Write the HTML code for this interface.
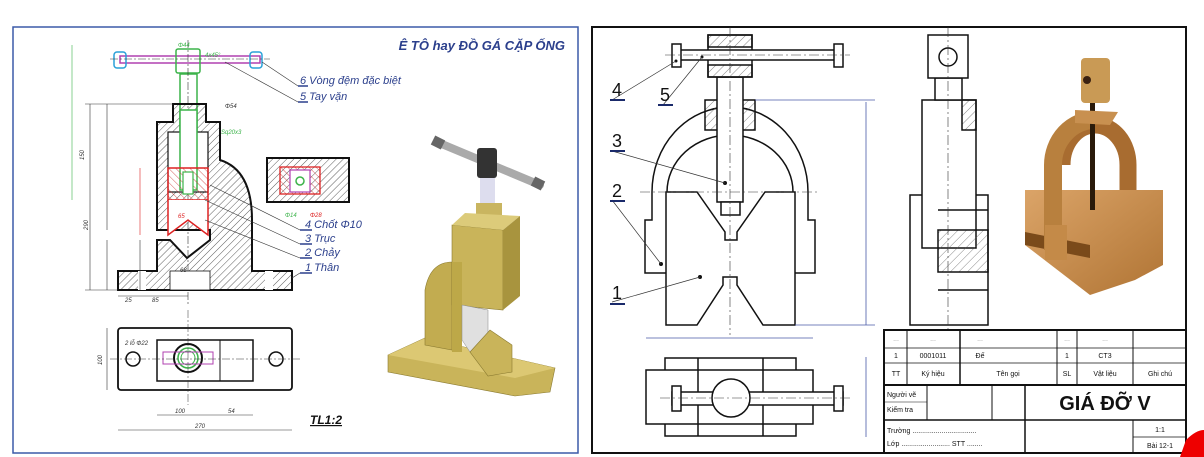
<!DOCTYPE html>
<html><head><meta charset="utf-8"><style>
html,body{margin:0;padding:0;background:#fff;}
svg{display:block;}
text{font-family:"Liberation Sans",sans-serif;}
</style></head><body>
<svg width="1204" height="457" viewBox="0 0 1204 457" xmlns="http://www.w3.org/2000/svg">
<defs>
<pattern id="h" width="5" height="5" patternUnits="userSpaceOnUse" patternTransform="rotate(45)"><line x1="0" y1="0" x2="0" y2="5" stroke="#333" stroke-width="0.8"/></pattern>
<pattern id="hr" width="5" height="5" patternUnits="userSpaceOnUse" patternTransform="rotate(-45)"><line x1="0" y1="0" x2="0" y2="5" stroke="#c33" stroke-width="0.8"/></pattern>
<pattern id="h2" width="6" height="6" patternUnits="userSpaceOnUse" patternTransform="rotate(45)"><line x1="0" y1="0" x2="0" y2="6" stroke="#555" stroke-width="0.7"/></pattern>
<linearGradient id="br" x1="0" y1="0" x2="1" y2="1"><stop offset="0" stop-color="#dba468"/><stop offset="1" stop-color="#b07434"/></linearGradient>
</defs>
<!-- LEFT PANEL -->
<rect x="13" y="27" width="565" height="426" fill="#fff" stroke="#3b5aa8" stroke-width="1.5"/>
<text x="565" y="50" text-anchor="end" font-size="13" font-weight="bold" font-style="italic" fill="#2b3f8c">Ê TÔ hay ĐỒ GÁ CẶP ỐNG</text>
<rect x="120" y="56" width="140" height="7" fill="none" stroke="#b040b0" stroke-width="1.5"/>
<rect x="114" y="52" width="12" height="16" rx="3" fill="none" stroke="#29a0d8" stroke-width="1.5"/>
<rect x="250" y="52" width="12" height="16" rx="3" fill="none" stroke="#29a0d8" stroke-width="1.5"/>
<rect x="176" y="49" width="24" height="24" rx="2" fill="none" stroke="#3cb34a" stroke-width="1.5"/>
<rect x="180" y="74" width="17" height="110" fill="none" stroke="#3cb34a" stroke-width="1.5"/>
<line x1="188" y1="40" x2="188" y2="305" stroke="#333" stroke-width="0.6" stroke-dasharray="8,2,2,2"/>
<line x1="110" y1="59" x2="270" y2="59" stroke="#333" stroke-width="0.6" stroke-dasharray="8,2,2,2"/>
<path d="M173,104 H206 V122 H220 V160 Q252,170 252,220 V271 H292 V290 H118 V271 H157 V240 H170 L187,258 L210,240 V230 H157 V122 H173 Z" fill="url(#h)" stroke="#111" stroke-width="2"/>
<rect x="168" y="132" width="40" height="60" fill="#fff" stroke="#111" stroke-width="1.2"/>
<rect x="180" y="110" width="17" height="80" fill="#fff" stroke="#3cb34a" stroke-width="1.5"/>
<rect x="138" y="271" width="8" height="19" fill="#fff"/><rect x="265" y="271" width="8" height="19" fill="#fff"/>
<rect x="170" y="271" width="40" height="19" fill="#fff" stroke="#111" stroke-width="0.8"/>
<rect x="168" y="168" width="40" height="32" fill="url(#hr)" stroke="#d22" stroke-width="1.5"/>
<path d="M168,200 V235 L188,220 L208,235 V200" fill="#fff" stroke="#d22" stroke-width="1.5"/>
<rect x="183" y="172" width="10" height="22" fill="#fff" stroke="#3cb34a" stroke-width="1.2"/>
<g stroke="#333" stroke-width="0.6" fill="none">
<line x1="90" y1="104" x2="90" y2="290"/><line x1="107" y1="104" x2="107" y2="230"/><line x1="107" y1="240" x2="107" y2="290"/>
<line x1="85" y1="104" x2="173" y2="104"/><line x1="85" y1="290" x2="118" y2="290"/>
<line x1="118" y1="296" x2="188" y2="296"/><line x1="140" y1="240" x2="140" y2="290"/>
<line x1="72" y1="45" x2="72" y2="200" stroke="#3cb34a"/>
<line x1="140" y1="168" x2="140" y2="235" stroke="#d22"/>
</g>
<g font-size="6" fill="#333" font-style="italic">
<text x="84" y="160" transform="rotate(-90 84 160)">150</text><text x="88" y="230" transform="rotate(-90 88 230)">290</text>
<text x="125" y="302">25</text><text x="152" y="302">85</text><text x="180" y="272">68</text>
<text x="225" y="108">Φ54</text><text x="178" y="47" fill="#3cb34a">Φ44</text><text x="205" y="57" fill="#3cb34a">4x45°</text>
<text x="221" y="134" fill="#3cb34a">Sq20x3</text><text x="178" y="218" fill="#d22">65</text>
</g>
<g stroke="#333" stroke-width="0.6" fill="none">
<line x1="262" y1="62" x2="298" y2="86"/><line x1="298" y1="86" x2="308" y2="86" stroke="#2b3f8c" stroke-width="1.5"/>
<line x1="225" y1="62" x2="298" y2="102"/><line x1="298" y1="102" x2="308" y2="102" stroke="#2b3f8c" stroke-width="1.5"/>
<line x1="210" y1="185" x2="300" y2="230"/><line x1="300" y1="230" x2="312" y2="230" stroke="#2b3f8c" stroke-width="1.5"/>
<line x1="205" y1="200" x2="300" y2="244"/><line x1="300" y1="244" x2="312" y2="244" stroke="#2b3f8c" stroke-width="1.5"/>
<line x1="205" y1="220" x2="300" y2="258"/><line x1="300" y1="258" x2="312" y2="258" stroke="#2b3f8c" stroke-width="1.5"/>
<line x1="292" y1="278" x2="300" y2="273"/><line x1="300" y1="273" x2="312" y2="273" stroke="#2b3f8c" stroke-width="1.5"/>
</g>
<g font-size="11" font-style="italic" fill="#2b3f8c">
<text x="300" y="84">6  Vòng đệm đặc biệt</text><text x="300" y="100">5  Tay vặn</text>
<text x="305" y="228">4  Chốt Φ10</text><text x="305" y="242">3  Trục</text>
<text x="305" y="256">2  Chảy</text><text x="305" y="271">1  Thân</text>
</g>
<rect x="267" y="158" width="82" height="44" fill="url(#h)" stroke="#111" stroke-width="2"/>
<rect x="280" y="167" width="40" height="27" fill="url(#hr)" stroke="#d22" stroke-width="1.3"/>
<rect x="290" y="170" width="20" height="22" fill="#fff" stroke="#b040b0" stroke-width="1.2"/>
<circle cx="300" cy="181" r="4" fill="#fff" stroke="#3cb34a" stroke-width="1.5"/>
<text x="285" y="217" font-size="6" fill="#3cb34a" font-style="italic">Φ14</text><text x="310" y="217" font-size="6" fill="#d22" font-style="italic">Φ28</text>
<rect x="118" y="328" width="174" height="62" rx="3" fill="#fff" stroke="#111" stroke-width="1.8"/>
<rect x="157" y="340" width="96" height="41" fill="#fff" stroke="#111" stroke-width="1.5"/>
<line x1="220" y1="340" x2="220" y2="381" stroke="#111" stroke-width="1"/>
<circle cx="188" cy="358" r="14" fill="#fff" stroke="#111" stroke-width="2"/>
<circle cx="188" cy="358" r="10" fill="none" stroke="#3cb34a" stroke-width="1.5"/>
<circle cx="188" cy="358" r="7" fill="none" stroke="#3cb34a" stroke-width="1"/>
<rect x="163" y="352" width="50" height="12" fill="none" stroke="#b040b0" stroke-width="1"/>
<circle cx="133" cy="359" r="7" fill="none" stroke="#111" stroke-width="1.5"/><circle cx="276" cy="359" r="7" fill="none" stroke="#111" stroke-width="1.5"/>
<line x1="110" y1="359" x2="300" y2="359" stroke="#333" stroke-width="0.5" stroke-dasharray="8,2,2,2"/>
<line x1="188" y1="310" x2="188" y2="405" stroke="#333" stroke-width="0.5" stroke-dasharray="8,2,2,2"/>
<g stroke="#333" stroke-width="0.6"><line x1="157" y1="415" x2="253" y2="415"/><line x1="118" y1="430" x2="292" y2="430"/><line x1="107" y1="328" x2="107" y2="390"/></g>
<g font-size="6" fill="#333" font-style="italic"><text x="125" y="345">2 lỗ Φ22</text><text x="175" y="413">100</text><text x="228" y="413">54</text><text x="195" y="428">270</text><text x="102" y="365" transform="rotate(-90 102 365)">100</text></g>
<text x="310" y="424" font-size="12" font-weight="bold" font-style="italic" fill="#111" text-decoration="underline">TL1:2</text>
<line x1="437" y1="142" x2="540" y2="185" stroke="#aaa" stroke-width="8" stroke-linecap="round"/>
<line x1="433" y1="140" x2="443" y2="145" stroke="#666" stroke-width="10"/><line x1="533" y1="181" x2="543" y2="186" stroke="#666" stroke-width="10"/>
<rect x="480" y="176" width="15" height="30" fill="#dde"/>
<rect x="477" y="148" width="20" height="30" rx="3" fill="#333"/>
<rect x="476" y="203" width="26" height="15" fill="#c9b560"/>
<polygon points="388,355 425,338 555,368 550,392 515,396 388,372" fill="#c9b45a" stroke="#8a7a30" stroke-width="0.6"/>
<polygon points="388,355 425,338 555,368 515,378" fill="#dcc873"/>
<path d="M425,345 V290 Q430,262 452,262 V350 Z" fill="#c2ac50" stroke="#8a7a30" stroke-width="0.6"/>
<polygon points="452,225 503,230 503,310 452,305" fill="#c9b45a" stroke="#8a7a30" stroke-width="0.6"/>
<polygon points="452,225 465,213 520,216 503,230" fill="#dccb7a"/>
<polygon points="503,230 520,216 520,296 503,310" fill="#a8943e"/>
<polygon points="452,262 462,262 462,352 452,352" fill="#bda848"/>
<polygon points="462,305 488,310 488,335 470,352 462,340" fill="#e0e0e0" stroke="#888" stroke-width="0.5"/>
<polygon points="470,352 490,330 512,345 512,372 488,376" fill="#c9b45a" stroke="#8a7a30" stroke-width="0.6"/>
<!-- RIGHT PANEL -->
<rect x="592" y="27" width="594" height="426" fill="#fff" stroke="#111" stroke-width="2"/>
<g stroke="#111" stroke-width="1.5" fill="#fff">
<path d="M652,220 V192 A78,85 0 0 1 808,192 V220 H815 V273 H781 V246 H793 V192 A63,57 0 0 0 667,192 V246 H679 V273 H645 V220 Z"/>
<polygon points="666,192 697,192 725,232 725,240 737,240 737,232 765,192 795,192 795,325 763,325 737,285 737,277 723,277 723,285 697,325 666,325"/>
<rect x="705" y="100" width="50" height="30" fill="url(#h2)"/>
<rect x="717" y="77" width="26" height="125"/>
<rect x="721" y="202" width="19" height="13"/>
<rect x="708" y="35" width="44" height="42"/>
<rect x="708" y="35" width="44" height="12" fill="url(#h2)"/><rect x="708" y="65" width="44" height="12" fill="url(#h2)"/>
<rect x="680" y="50" width="155" height="10"/>
<rect x="672" y="44" width="9" height="23"/><rect x="834" y="44" width="9" height="23"/>
</g>
<g stroke="#333" stroke-width="0.6" stroke-dasharray="10,3,2,3"><line x1="730" y1="27" x2="730" y2="335"/><line x1="640" y1="192" x2="820" y2="192"/><line x1="665" y1="55" x2="850" y2="55"/></g>
<g fill="#111"><circle cx="676" cy="61" r="1.5"/><circle cx="702" cy="57" r="1.5"/><circle cx="725" cy="183" r="2"/><circle cx="661" cy="264" r="2"/><circle cx="700" cy="277" r="2"/></g>
<g stroke="#333" stroke-width="0.7"><line x1="612" y1="100" x2="676" y2="61"/><line x1="663" y1="105" x2="702" y2="57"/><line x1="612" y1="151" x2="725" y2="183"/><line x1="612" y1="200" x2="661" y2="264"/><line x1="612" y1="302" x2="700" y2="277"/></g>
<g stroke="#1a2a6a" stroke-width="2"><line x1="610" y1="100" x2="625" y2="100"/><line x1="658" y1="105" x2="673" y2="105"/><line x1="610" y1="151" x2="625" y2="151"/><line x1="610" y1="201" x2="625" y2="201"/><line x1="610" y1="304" x2="625" y2="304"/></g>
<g font-size="18" fill="#111"><text x="612" y="96">4</text><text x="660" y="101">5</text><text x="612" y="147">3</text><text x="612" y="197">2</text><text x="612" y="299">1</text></g>
<g stroke="#4a5aa8" stroke-width="0.8"><line x1="866" y1="102" x2="866" y2="325"/><line x1="755" y1="100" x2="875" y2="100"/><line x1="795" y1="325" x2="875" y2="325"/>
<line x1="646" y1="338" x2="813" y2="338"/><line x1="866" y1="357" x2="866" y2="437"/></g>
<g stroke="#111" stroke-width="1.5" fill="#fff">
<rect x="910" y="195" width="78" height="130"/>
<rect x="922" y="100" width="54" height="148"/>
<rect x="962" y="100" width="14" height="30" fill="url(#h2)"/>
<rect x="935" y="78" width="27" height="22"/>
<rect x="928" y="35" width="40" height="43"/>
<circle cx="948" cy="57" r="9"/>
<rect x="938" y="230" width="50" height="42" fill="url(#h2)"/>
<line x1="938" y1="210" x2="988" y2="210"/><line x1="938" y1="290" x2="988" y2="290"/>
</g>
<line x1="948" y1="27" x2="948" y2="330" stroke="#333" stroke-width="0.6" stroke-dasharray="10,3,2,3"/>
<g stroke="#111" stroke-width="1.5" fill="#fff">
<rect x="665" y="358" width="131" height="78"/>
<rect x="646" y="370" width="167" height="54"/>
<line x1="698" y1="358" x2="698" y2="436"/><line x1="763" y1="358" x2="763" y2="436"/>
<rect x="672" y="392" width="171" height="13"/>
<rect x="672" y="386" width="9" height="25"/><rect x="834" y="386" width="9" height="25"/>
<circle cx="731" cy="398" r="19"/>
</g>
<line x1="660" y1="398" x2="850" y2="398" stroke="#333" stroke-width="0.6" stroke-dasharray="10,3,2,3"/>
<!-- bronze V-block photo -->
<path d="M1128,200 V165 A33,40 0 0 0 1062,165" fill="none" stroke="#a86c30" stroke-width="17"/>
<polygon points="1025,190 1163,190 1163,265 1135,280 1090,295 1025,245" fill="url(#br)"/>
<polygon points="1025,232 1090,245 1090,258 1025,245" fill="#7a4a1a"/>
<path d="M1053,250 V165 A42,45 0 0 1 1095,120" fill="none" stroke="#b8803e" stroke-width="18"/>
<rect x="1090" y="100" width="5" height="110" fill="#2a1a0a"/>
<polygon points="1075,110 1118,112 1110,125 1075,123" fill="#c89050"/>
<rect x="1081" y="58" width="29" height="45" rx="4" fill="#c99a55"/>
<circle cx="1087" cy="80" r="4" fill="#3a2010"/>
<rect x="1045" y="225" width="22" height="35" fill="#c48a48"/>
<!-- title block -->
<g stroke="#111" fill="none">
<rect x="884" y="330" width="302" height="123" stroke-width="2"/>
<line x1="884" y1="348" x2="1186" y2="348" stroke-width="0.8"/><line x1="884" y1="363" x2="1186" y2="363" stroke-width="0.8"/>
<line x1="884" y1="385" x2="1186" y2="385" stroke-width="2"/><line x1="884" y1="420" x2="1186" y2="420" stroke-width="1.5"/>
<line x1="907" y1="330" x2="907" y2="385"/><line x1="960" y1="330" x2="960" y2="385" stroke-width="1.5"/>
<line x1="1057" y1="330" x2="1057" y2="385"/><line x1="1077" y1="330" x2="1077" y2="385"/><line x1="1133" y1="330" x2="1133" y2="385"/>
<line x1="927" y1="385" x2="927" y2="420"/><line x1="992" y1="385" x2="992" y2="420"/><line x1="1025" y1="385" x2="1025" y2="453" stroke-width="1.5"/>
<line x1="1133" y1="420" x2="1133" y2="453"/><line x1="1133" y1="437" x2="1186" y2="437" stroke-width="0.8"/>
<line x1="884" y1="402" x2="927" y2="402" stroke-width="0.6"/>
</g>
<g font-size="7" fill="#111" text-anchor="middle">
<text x="896" y="358">1</text><text x="933" y="358">0001011</text><text x="980" y="358">Đế</text><text x="1067" y="358">1</text><text x="1105" y="358">CT3</text>
<text x="896" y="376">TT</text><text x="933" y="376">Ký hiệu</text><text x="1008" y="376">Tên gọi</text><text x="1067" y="376">SL</text><text x="1105" y="376">Vật liệu</text><text x="1160" y="376">Ghi chú</text>
<text x="1160" y="432">1:1</text><text x="1160" y="448">Bài 12-1</text>
<g fill="#999"><text x="896" y="341">...</text><text x="933" y="341">...</text><text x="980" y="341">...</text><text x="1067" y="341">...</text><text x="1105" y="341">...</text></g>
</g>
<g font-size="7" fill="#111"><text x="887" y="397">Người vẽ</text><text x="887" y="412">Kiểm tra</text>
<text x="887" y="433">Trường .................................</text><text x="887" y="446">Lớp ......................... STT ........</text></g>
<text x="1105" y="410" text-anchor="middle" font-size="20" font-weight="bold" fill="#111">GIÁ ĐỠ V</text>
<path d="M1186,440 Q1196,430 1204,430 V457 H1180 Z" fill="#e00"/>
</svg>
</body></html>
